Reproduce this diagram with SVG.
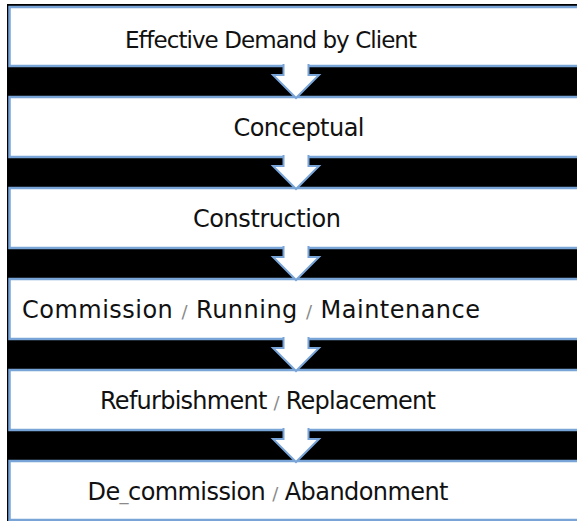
<svg xmlns="http://www.w3.org/2000/svg" width="577" height="521" viewBox="0 0 577 521">
<style>
.box{fill:#ffffff;stroke:#78a4d8;stroke-width:2.5}
.arrow{fill:#ffffff;stroke:#78a4d8;stroke-width:2;stroke-linejoin:miter}
.lbl{font-family:"DejaVu Sans","Liberation Sans",sans-serif;font-size:24px;fill:#111111;text-anchor:middle}
.sl{fill:#8a8a8a;font-size:18px}
</style>
<rect x="0" y="0" width="577" height="521" fill="#ffffff"/>
<rect x="7" y="4" width="575" height="517" fill="#000000"/>
<g id="node1"><rect class="box" x="9.5" y="7" width="580" height="59"/>
<text class="lbl" x="271" y="48" textLength="292" style="font-size:23px">Effective Demand by Client</text></g>
<g id="node2"><rect class="box" x="9.5" y="97" width="580" height="60"/>
<text class="lbl" x="299" y="136" textLength="131">Conceptual</text></g>
<g id="node3"><rect class="box" x="9.5" y="188" width="580" height="60"/>
<text class="lbl" x="267" y="227" textLength="148">Construction</text></g>
<g id="node4"><rect class="box" x="9.5" y="279" width="580" height="60"/>
<text class="lbl" x="251" y="318" textLength="458">Commission <tspan class="sl">/</tspan> Running <tspan class="sl">/</tspan> Maintenance</text></g>
<g id="node5"><rect class="box" x="9.5" y="370" width="580" height="60"/>
<text class="lbl" x="268" y="409" textLength="336">Refurbishment <tspan class="sl">/</tspan> Replacement</text></g>
<g id="node6"><rect class="box" x="9.5" y="461" width="580" height="59"/>
<text class="lbl" x="268" y="500" textLength="361">De<tspan class="sl">_</tspan>commission <tspan class="sl">/</tspan> Abandonment</text></g>
<g id="connectors">
<path class="arrow" d="M283.5,64 V75 H273 L296,98 L319,75 H308.5 V64"/>
<path class="arrow" d="M283.5,155 V166 H273 L296,189 L319,166 H308.5 V155"/>
<path class="arrow" d="M283.5,246 V257 H273 L296,280 L319,257 H308.5 V246"/>
<path class="arrow" d="M283.5,337 V348 H273 L296,371 L319,348 H308.5 V337"/>
<path class="arrow" d="M283.5,428 V439 H273 L296,462 L319,439 H308.5 V428"/>
</g>
</svg>
